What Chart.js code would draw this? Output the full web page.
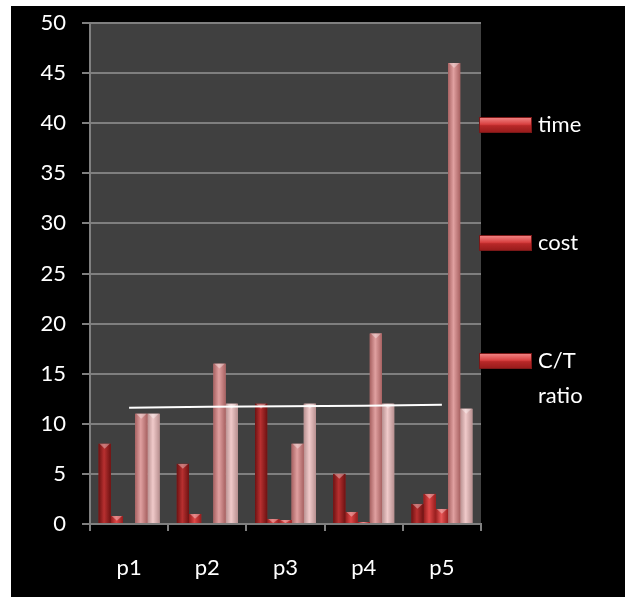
<!DOCTYPE html>
<html>
<head>
<meta charset="utf-8">
<script src="https://cdn.jsdelivr.net/npm/chart.js@4"></script>
<style>
  html, body { margin: 0; padding: 0; background: #fff; }
  #frame { position: absolute; left: 11px; top: 6px; width: 614px; height: 591px; background: #000; }
  #frame canvas { position: absolute; left: 0; top: 0; }
  .leg { position: absolute; left: 468px; font: 22px Lato, "Open Sans", sans-serif; color: #fff; }
  .leg .box { position: absolute; left: 0; top: 0; width: 53px; height: 16px; box-sizing: border-box;
    border: 1px solid #7a1818; background: linear-gradient(#f08080, #d84040 45%, #b82828 55%, #9a1c1c); }
  .leg .txt { position: absolute; left: 59px; top: -11px; line-height: 35px; white-space: nowrap; }
</style>
</head>
<body>
<div id="frame">
  <canvas id="ctChart"></canvas>
  <div id="legend"></div>
</div>
<script>
// DATA
let categories = ['p1', 'p2', 'p3', 'p4', 'p5'];
let timeVals = [8, 6, 12, 5, 2];
let costVals = [0.8, 1, 0.5, 1.2, 3];
let ratioVals = [0.1, 0.1, 0.4, 0.2, 1.5];
let series4Vals = [11, 16, 8, 19, 46];
let series5Vals = [11, 12, 12, 12, 11.5];
let trendVals = [11.6, 11.7, 11.75, 11.8, 11.9];
let legendNames = ['time', 'cost', 'C/T ratio'];
let legendTops = [111, 229, 347];

// bar colours: base, dark edge, light centre
let barColors = [
  ['#9c2020', '#6e1212', '#b83030'],
  ['#c42c2c', '#951c1c', '#e04848'],
  ['#cc3434', '#9c2020', '#e85656'],
  ['#cf8282', '#a86262', '#e0a0a0'],
  ['#ddb0b0', '#b89090', '#f0caca']
];

// plot area background
let plotBg = {
  id: 'plotBg',
  beforeDraw(chart) {
    let a = chart.chartArea, c = chart.ctx;
    c.save();
    c.fillStyle = '#404040';
    c.fillRect(a.left, a.top, a.right - a.left, a.bottom - a.top);
    c.restore();
  }
};

// cylinder shading on each bar
let barShade = {
  id: 'barShade',
  afterDatasetDraw(chart, args) {
    let meta = args.meta;
    if (meta.type !== 'bar') return;
    let col = barColors[args.index - 1];
    if (!col) return;
    let c = chart.ctx;
    c.save();
    meta.data.forEach(function (bar) {
      let p = bar.getProps(['x', 'y', 'base', 'width'], true);
      let l = p.x - p.width / 2, r = p.x + p.width / 2;
      let h = p.base - p.y;
      if (h <= 0) return;
      let g = c.createLinearGradient(l, 0, r, 0);
      g.addColorStop(0, col[1]);
      g.addColorStop(0.45, col[2]);
      g.addColorStop(1, col[1]);
      c.fillStyle = g;
      c.fillRect(l, p.y, p.width, h);
      // top cap highlight
      let capH = Math.min(h, p.width * 0.4);
      c.beginPath();
      c.moveTo(l + 1, p.y);
      c.lineTo(r - 1, p.y);
      c.lineTo(p.x, p.y + capH);
      c.closePath();
      c.fillStyle = 'rgba(255,255,255,0.35)';
      c.fill();
    });
    c.restore();
  }
};

let ct = document.querySelector('#ctChart').getContext('2d');
let axisFont = { family: 'Lato, "Open Sans", sans-serif', size: 22 };

let chart = new Chart(ct, {
  type: 'bar',
  data: {
    labels: categories,
    datasets: [
      { type: 'line', label: 'trend', data: trendVals, borderColor: '#ffffff', borderWidth: 2,
        pointRadius: 0, fill: false, order: 0, tension: 0 },
      { label: legendNames[0], data: timeVals, backgroundColor: barColors[0][0], order: 1 },
      { label: legendNames[1], data: costVals, backgroundColor: barColors[1][0], order: 1 },
      { label: legendNames[2], data: ratioVals, backgroundColor: barColors[2][0], order: 1 },
      { label: 'Series4', data: series4Vals, backgroundColor: barColors[3][0], order: 1 },
      { label: 'Series5', data: series5Vals, backgroundColor: barColors[4][0], order: 1 }
    ]
  },
  options: {
    responsive: true,
    maintainAspectRatio: false,
    animation: false,
    categoryPercentage: 0.78,
    barPercentage: 1,
    layout: { padding: { top: 17, right: 144, left: 0, bottom: 0 } },
    plugins: { legend: { display: false }, tooltip: { enabled: false } },
    scales: {
      x: {
        afterFit: function (s) { s.height = 73; s.paddingLeft = 0; s.paddingRight = 0; },
        grid: { offset: true, drawOnChartArea: false, color: '#808080', lineWidth: 2, tickLength: 7 },
        border: { color: '#808080', width: 2 },
        ticks: { color: '#ffffff', font: axisFont, padding: 24 }
      },
      y: {
        min: 0,
        max: 50,
        afterFit: function (s) { s.width = 79; s.paddingTop = 0; s.paddingBottom = 0; },
        grid: { color: '#7f7f7f', lineWidth: 2, tickLength: 8 },
        border: { color: '#808080', width: 2 },
        ticks: { stepSize: 5, color: '#ffffff', font: axisFont, padding: 16 }
      }
    }
  },
  plugins: [plotBg, barShade]
});

// LEGEND
let legendEl = document.querySelector('#legend');
legendNames.forEach(function (name, i) {
  let item = document.createElement('div');
  item.className = 'leg';
  item.style.top = legendTops[i] + 'px';
  let txt = name === 'C/T ratio' ? 'C/T<br>ratio' : name;
  item.innerHTML = '<div class="box"></div><div class="txt">' + txt + '</div>';
  legendEl.appendChild(item);
});
</script>
</body>
</html>
